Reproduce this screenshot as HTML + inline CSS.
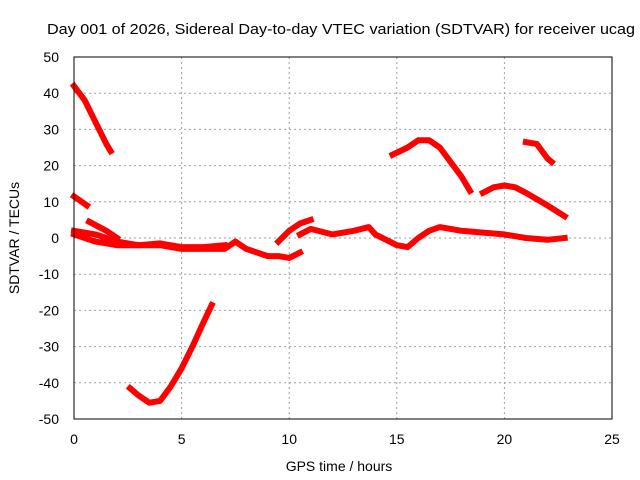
<!DOCTYPE html>
<html><head><meta charset="utf-8"><style>
body{margin:0;background:#fff}
svg{display:block;font-family:"Liberation Sans",sans-serif}
</style></head><body>
<svg id="chart" width="640" height="480" xmlns="http://www.w3.org/2000/svg">
<rect width="640" height="480" fill="#fff"/>
<g id="grid"></g>
<g id="series"></g>
<rect x="74" y="57" width="538" height="362" fill="none" stroke="#000" stroke-width="1"/>
<g id="ticks"></g>
<text x="47" y="34" font-size="15" textLength="588" lengthAdjust="spacingAndGlyphs" fill="#000">Day 001 of 2026, Sidereal Day-to-day VTEC variation (SDTVAR) for receiver ucag</text>
<text x="339" y="471" font-size="14" text-anchor="middle">GPS time / hours</text>
<text transform="translate(19,238) rotate(-90)" font-size="14" text-anchor="middle">SDTVAR / TECUs</text>
</svg>
<script>
const xTicks=[0,5,10,15,20,25];
const yTicks=[50,40,30,20,10,0,-10,-20,-30,-40,-50];
const seg1X=[0,0.5,1,1.5,1.7], seg1Y=[42,38,32,26,24];
const seg2X=[0,0.6], seg2Y=[11.5,9];
const seg3X=[0,1,2,3,4,5,6,7,7.5,8,9,9.5,10,10.5], seg3Y=[1,-1,-2,-2,-2,-3,-3,-3,-1,-3,-5,-5,-5.5,-4];
const seg4X=[0,1,2,3,4,5,6,7], seg4Y=[2,1,-1,-2,-1.5,-2.5,-2.5,-2];
const seg5X=[0.7,1.5,2], seg5Y=[4.5,2,0];
const seg6X=[9.5,10,10.5,11], seg6Y=[-1,2,4,5];
const seg7X=[10.5,11,12,13,13.7,14,15,15.5,16,16.5,17,18,19,20,21,22,22.8], seg7Y=[1,2.5,1,2,3,1,-2,-2.5,0,2,3,2,1.5,1,0,-0.5,0];
const seg8X=[14.8,15.5,16,16.5,17,18,18.4], seg8Y=[23,25,27,27,25,17,13];
const seg9X=[19,19.5,20,20.5,21,22,22.8], seg9Y=[12.5,14,14.5,14,12.5,9,6];
const seg10X=[21,21.5,22,22.2], seg10Y=[26.5,26,22,21];
const seg11X=[2.6,3,3.5,4,4.5,5,5.5,6,6.4], seg11Y=[-41.5,-43.5,-45.5,-45,-41,-36,-30,-23.5,-18.5];
const segsX=[seg1X,seg2X,seg3X,seg4X,seg5X,seg6X,seg7X,seg8X,seg9X,seg10X,seg11X];
const segsY=[seg1Y,seg2Y,seg3Y,seg4Y,seg5Y,seg6Y,seg7Y,seg8Y,seg9Y,seg10Y,seg11Y];
const L=74,R=612,T=57,B=419;
const sx=v=>L+(v-0)/25*(R-L);
const sy=v=>B-(v+50)/100*(B-T);
const NS="http://www.w3.org/2000/svg";
const grid=document.getElementById('grid'),ticks=document.getElementById('ticks'),ser=document.getElementById('series');
function mk(t,a){const e=document.createElementNS(NS,t);for(const k in a)e.setAttribute(k,a[k]);return e;}
xTicks.forEach(v=>{
  const x=sx(v);
  if(v>0&&v<25){const g=mk('line',{x1:x,x2:x,y1:T,y2:B,stroke:'#a0a0a0','stroke-dasharray':'2,3'});
  
  
  grid.appendChild(g);}
  const t=mk('text',{x:x,y:444,'font-size':14,'text-anchor':'middle'});t.textContent=v;
  
  
  ticks.appendChild(t);
});
yTicks.forEach(v=>{
  const y=sy(v);
  if(v>-50&&v<50){const g=mk('line',{x1:L,x2:R,y1:y,y2:y,stroke:'#a0a0a0','stroke-dasharray':'2,3'});
  
  
  grid.appendChild(g);}
  const t=mk('text',{x:59,y:y+5,'font-size':14,'text-anchor':'end'});t.textContent=v;
  
  
  ticks.appendChild(t);
});
segsX.forEach((xs,i)=>{
  const pts=xs.map((x,j)=>sx(x).toFixed(1)+','+sy(segsY[i][j]).toFixed(1)).join(' ');
  const p=mk('polyline',{points:pts,fill:'none',stroke:'#ff0000','stroke-width':6,'stroke-linejoin':'round','stroke-linecap':'square'});
  
  
  ser.appendChild(p);
});
</script>
</body></html>
